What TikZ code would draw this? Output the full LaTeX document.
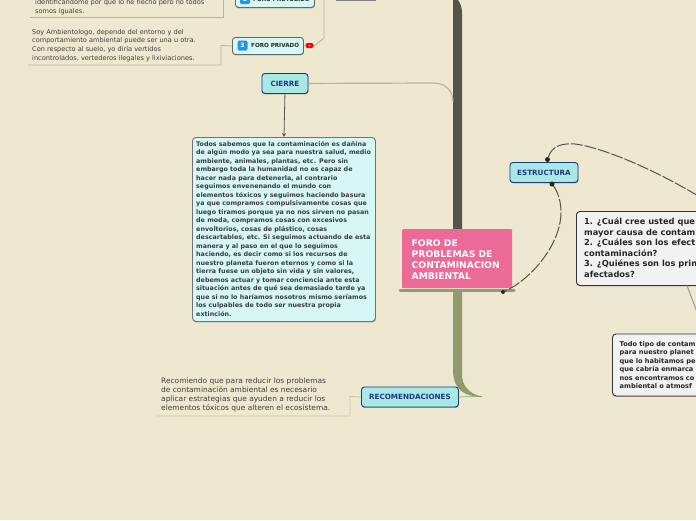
\documentclass[tikz,border=0pt]{standalone}
\usepackage{fontspec}
\setmainfont{DejaVu Sans}
\usetikzlibrary{arrows.meta,positioning,shadows}
\definecolor{paper}{HTML}{EFE8D1}
\definecolor{trunkdark}{HTML}{55544A}
\definecolor{trunkgreen}{HTML}{919C6C}
\definecolor{linktan}{HTML}{B8B29E}
\definecolor{linkgreen}{HTML}{C3C8A2}
\definecolor{pinkmain}{HTML}{EB6A98}
\definecolor{cyanhead}{HTML}{A9E8E5}
\definecolor{cyanlight}{HTML}{D6F7F6}
\definecolor{navyhead}{HTML}{1B3A7E}
\definecolor{textgray}{HTML}{3C3C3C}
\definecolor{iconblue}{HTML}{2196E8}
\tikzset{
boxshadow/.style={drop shadow={shadow xshift=0.4pt,shadow yshift=-1pt,fill=black!60}},
headbox/.style={boxshadow,draw=navyhead,line width=0.9pt,rounded corners=3pt,fill=cyanhead,text=navyhead,font=\bfseries\fontsize{7.2}{8}\selectfont,inner sep=0pt,anchor=north west},
forobox/.style={boxshadow,draw=black!60,line width=0.9pt,rounded corners=3pt,fill=cyanlight,inner sep=0pt,anchor=north west},
forotext/.style={font=\bfseries\fontsize{5.6}{6}\selectfont,text=black!85,inner sep=0pt,anchor=west},
iconbox/.style={fill=iconblue,rounded corners=1.5pt,text=white,font=\bfseries\fontsize{6}{6}\selectfont,minimum size=10pt,inner sep=0pt},
notetext/.style={font=\fontsize{6.6}{8.6}\selectfont,text=textgray,align=left,inner sep=0pt,anchor=north west},
darkbox/.style={boxshadow,draw=black!80,line width=0.9pt,rounded corners=3.5pt,fill=black!5,anchor=north west,inner sep=0pt},
link/.style={draw=linktan,line width=0.9pt},
dashlink/.style={draw=trunkdark,line width=1pt,dash pattern=on 12pt off 2pt},
dotend/.style={circle,fill=black!85,inner sep=0pt,minimum size=5pt}
}
\begin{document}
\begin{tikzpicture}[x=1pt,y=-1pt,>=Stealth]
\useasboundingbox (0,0) rectangle (696,520);
\clip (0,0) rectangle (696,520);
\fill[paper] (0,0) rectangle (696,520);
% trunk
\coordinate (trunktop) at (453,0);
\fill[trunkdark] (453,0) -- (458,0) .. controls (461,4) and (462,8) .. (462,14) -- (462,232) -- (453,232) -- cycle;
\fill[trunkgreen] (453,290) -- (462,290) -- (462,375) .. controls (462,384) and (468,394) .. (482,396.5) .. controls (465,397) and (453,390) .. (453,370) -- cycle;
% top nodes
\node[draw=black!50,fill=black!25,minimum width=39pt,minimum height=4pt,inner sep=0pt,anchor=south west] (topbox) at (336,0.5) {};
\node[forobox,minimum width=79pt,minimum height=16pt] (foroa) at (235,-9) {};
\node[iconbox] (icona) at (245,-1) {2};
\node[forotext] (foroatext) at (253,-1) {FORO PROTEGIDO};
\node[forobox,minimum width=71pt,minimum height=17pt] (forob) at (232,37) {};
\node[iconbox] (iconb) at (242.5,45.5) {3};
\node[forotext] (forobtext) at (251,45.5) {FORO PRIVADO};
\node[fill=red,rounded corners=2pt,minimum width=8pt,minimum height=5pt,inner sep=0pt] (flag) at (309.5,45.5) {};
\node[circle,fill=white,inner sep=0pt,minimum size=1.5pt] (flagdot) at (flag) {};
\coordinate (bendb) at (324,38);
\coordinate (bendc) at (221,45.5);
\coordinate (underb) at (221,65);
\coordinate (undere) at (28,65);
\coordinate (undera) at (223,17);
\coordinate (underf) at (30,17);
\coordinate (upa) at (223,0);
\coordinate (upb) at (324,0);
\draw[link] (forob.east) -- (flag.west);
\draw[link] (flag.east) -- (315,45.5) -- (bendb) -- (upb);
\draw[link] (forob.west) -- (bendc) -- (underb) -- (undere);
\draw[link] (upa) -- (undera) -- (underf);
\node[notetext] (notea) at (35,-1) {identificándome por que lo he hecho pero no todos\\somos iguales.};
\node[notetext] (noteb) at (32,29) {Soy Ambientologo, depende del entorno y del\\comportamiento ambiental puede ser una u otra.\\Con respecto al suelo, yo diría vertidos\\incontrolados, vertederos ilegales y lixiviaciones.};
% cierre
\node[headbox,minimum width=46pt,minimum height=20pt] (cierre) at (261.5,73) {CIERRE};
\coordinate (cierreend) at (453,102);
\draw[link,line width=1.2pt] (cierre.east) -- (433,83) .. controls (445,83) and (453,90) .. (cierreend);
\node[boxshadow,draw=black!55,line width=0.9pt,rounded corners=3.5pt,fill=cyanlight,anchor=north west,inner sep=0pt,minimum width=183pt,minimum height=184pt] (cierrebox) at (192,137) {};
\node[font=\bfseries\fontsize{6.35}{8.5}\selectfont,text=textgray,align=left,inner sep=0pt,anchor=north west] (cierretext) at (196,141) {Todos sabemos que la contaminación es dañina\\de algún modo ya sea para nuestra salud, medio\\ambiente, animales, plantas, etc. Pero sin\\embargo toda la humanidad no es capaz de\\hacer nada para detenerla, al contrario\\seguimos envenenando el mundo con\\elementos tóxicos y seguimos haciendo basura\\ya que compramos compulsivamente cosas que\\luego tiramos porque ya no nos sirven no pasan\\de moda, compramos cosas con excesivos\\envoltorios, cosas de plástico, cosas\\descartables, etc. Si seguimos actuando de esta\\manera y al paso en el que lo seguimos\\haciendo, es decir como si los recursos de\\nuestro planeta fueron eternos y como si la\\tierra fuese un objeto sin vida y sin valores,\\debemos actuar y tomar conciencia ante esta\\situación antes de qué sea demasiado tarde ya\\que si no lo haríamos nosotros mismo seríamos\\los culpables de todo ser nuestra propia\\extinción.};
\draw[->,draw=trunkdark,line width=0.8pt,>={Stealth[length=4pt,width=4pt]}] (cierre.south) -- (cierrebox.north);
% main topic
\node[fill=pinkmain,rounded corners=1pt,anchor=north west,minimum width=110pt,minimum height=59pt,inner sep=0pt] (main) at (402,229) {};
\node[font=\bfseries\fontsize{9.2}{11}\selectfont,text=white,align=left,inner sep=0pt,anchor=north west] (maintext) at (411.5,239) {FORO DE\\PROBLEMAS DE\\CONTAMINACION\\AMBIENTAL};
\coordinate (barl) at (400,290);
\coordinate (barr) at (514,290);
\draw[trunkgreen,line width=3pt,line cap=round] (barl) -- (barr);
% estructura
\node[headbox,minimum width=68pt,minimum height=20pt] (estructura) at (509.5,162) {ESTRUCTURA};
\node[dotend] (dottop) at (547.5,159.5) {};
\node[dotend] (dotbot) at (552,184) {};
\node[dotend,minimum size=4pt] (dotmain) at (503,292) {};
\coordinate (offright) at (700,197);
\draw[dashlink] (dottop) .. controls (552,146) and (562,143) .. (575,144) .. controls (600,147) and (650,167) .. (offright);
\draw[dashlink] (dotbot) .. controls (558,192) and (561,202) .. (561,212) .. controls (561,245) and (530,280) .. (dotmain);
% questions
\node[darkbox,minimum width=130pt,minimum height=74pt] (preguntas) at (576,211) {};
\node[font=\bfseries\fontsize{8.3}{10.5}\selectfont,text=black!85,align=left,inner sep=0pt,anchor=north west] (preguntastext) at (584,218) {1. ¿Cuál cree usted que\\mayor causa de contam\\2. ¿Cuáles son los efect\\contaminación?\\3. ¿Quiénes son los prin\\afectados?};
\node[darkbox,minimum width=100pt,minimum height=62pt] (tipo) at (612,333.5) {};
\node[font=\bfseries\fontsize{6.6}{8.5}\selectfont,text=black!85,align=left,inner sep=0pt,anchor=north west] (tipotext) at (619.5,341) {Todo tipo de contam\\para nuestro planet\\que lo habitamos pe\\que cabría enmarca\\nos encontramos co\\ambiental o atmosf};
\coordinate (linkoff) at (697,312);
\draw[draw=black!40,line width=1pt] (687,285.5) -- (linkoff);
% recomendaciones
\node[headbox,minimum width=97pt,minimum height=20pt] (recom) at (361,386.5) {RECOMENDACIONES};
\coordinate (recomr) at (482,396.5);
\coordinate (bendd) at (350,396.5);
\coordinate (underd) at (350,416);
\coordinate (underg) at (157,416);
\draw[draw=linkgreen,line width=0.9pt] (recom.west) -- (bendd) -- (underd) -- (underg);
\draw[draw=trunkgreen,line width=0.7pt] (recom.east) -- (recomr);
\node[notetext,font=\fontsize{7.45}{8.9}\selectfont] (notec) at (161,378) {Recomiendo que para reducir los problemas\\de contaminación ambiental es necesario\\aplicar estrategias que ayuden a reducir los\\elementos tóxicos que alteren el ecosistema.};
\end{tikzpicture}
\end{document}
